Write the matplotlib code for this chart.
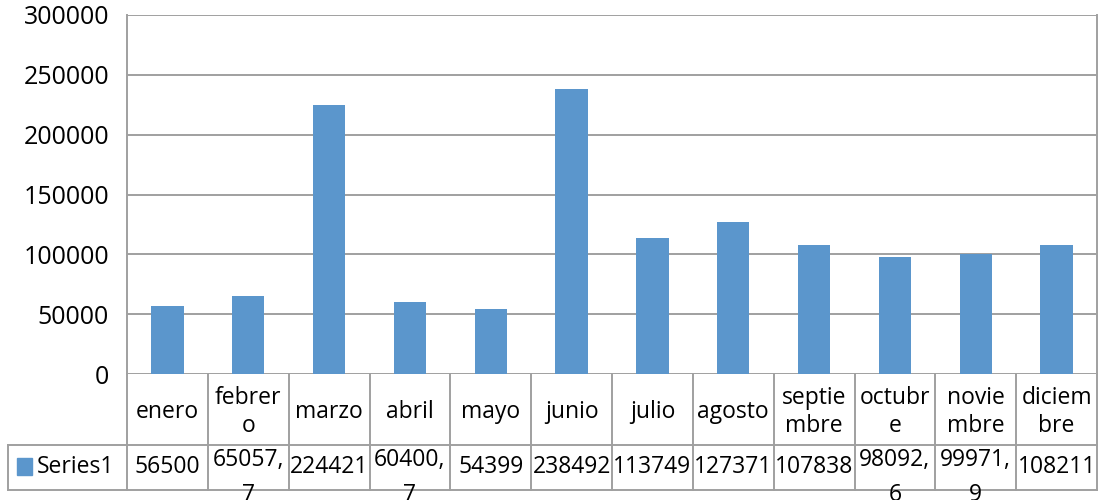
import matplotlib
matplotlib.use("Agg")
import matplotlib.pyplot as plt
from matplotlib.transforms import blended_transform_factory

plt.rcParams['font.family'] = ['Open Sans', 'DejaVu Sans']

months = ["enero", "febrero", "marzo", "abril", "mayo", "junio", "julio",
          "agosto", "septiembre", "octubre", "noviembre", "diciembre"]
month_labels = ["enero", "febrer\no", "marzo", "abril", "mayo", "junio", "julio",
                "agosto", "septie\nmbre", "octubr\ne", "novie\nmbre", "diciem\nbre"]
values = [56500, 65057.7, 224421, 60400.7, 54399, 238492, 113749, 127371,
          107838, 98092.6, 99971.9, 108211]
value_labels = ["56500", "65057,\n7", "224421", "60400,\n7", "54399", "238492",
                "113749", "127371", "107838", "98092,\n6", "99971,\n9", "108211"]
series_name = "Series1"
yticks = [0, 50000, 100000, 150000, 200000, 250000, 300000]

W, H = 1099, 500
fig = plt.figure(figsize=(W / 100, H / 100), dpi=100)
ax = fig.add_axes([127 / W, 1 - 374 / H, (1097 - 127) / W, (374 - 15) / H])

bar_color = "#5B96CC"
line_color = "#A0A0A0"
lw = 1.4
fs = 16.5

x = [i + 0.5 for i in range(len(months))]
ax.bar(x, values, width=0.4, color=bar_color, zorder=3)
ax.set_xlim(0, 12)
ax.set_ylim(0, 300000)
ax.set_yticks(yticks)
ax.set_yticklabels([str(t) for t in yticks], fontsize=18)
ax.tick_params(axis='y', length=0, pad=13)
ax.set_xticks([])
for yv in yticks:
    ax.axhline(yv, color=line_color, lw=lw, zorder=1)
for s in ["top", "bottom"]:
    ax.spines[s].set_visible(False)
ax.spines["left"].set_color(line_color)
ax.spines["left"].set_linewidth(lw)
ax.spines["right"].set_color(line_color)
ax.spines["right"].set_linewidth(lw)

def fy(py):
    return 1 - py / H

tr = blended_transform_factory(ax.transData, fig.transFigure)
trf = fig.transFigure

# table grid
for i in range(len(months) + 1):
    fig.add_artist(plt.Line2D([i, i], [fy(374), fy(490)], transform=tr,
                              color=line_color, lw=lw))
for py in (445, 490):
    fig.add_artist(plt.Line2D([8 / W, 1097 / W], [fy(py), fy(py)], transform=trf,
                              color=line_color, lw=lw))
fig.add_artist(plt.Line2D([8 / W, 8 / W], [fy(445), fy(490)], transform=trf,
                          color=line_color, lw=lw))

# category labels
for xi, lab in zip(x, month_labels):
    fig.text(xi, fy(412), lab, transform=tr, ha='center', va='center',
             fontsize=fs, linespacing=1.25)

# value labels
for xi, lab in zip(x, value_labels):
    if "\n" in lab:
        first, second = lab.split("\n")
        fig.text(xi, fy(460), first, transform=tr, ha='center', va='center', fontsize=fs)
        fig.text(xi, fy(495), second, transform=tr, ha='center', va='center', fontsize=fs)
    else:
        fig.text(xi, fy(467), lab, transform=tr, ha='center', va='center', fontsize=fs)

# legend cell
fig.add_artist(plt.Rectangle((17 / W, fy(475)), 15 / W, 17 / H, transform=trf,
                             color=bar_color))
fig.text(37 / W, fy(467), series_name, transform=trf, ha='left', va='center', fontsize=fs)

fig.savefig("out.png", dpi=100)
